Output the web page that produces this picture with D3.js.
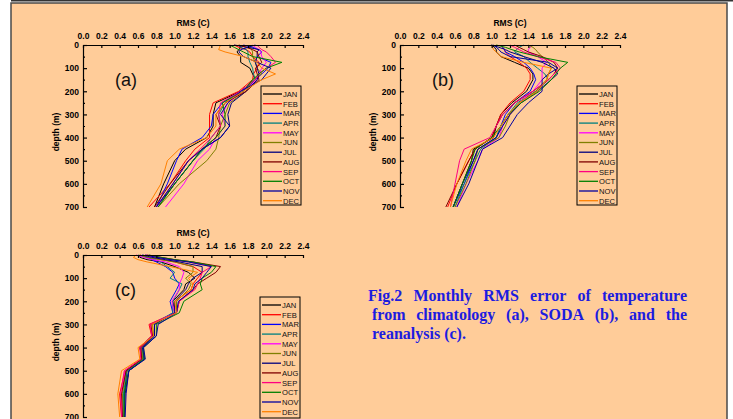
<!DOCTYPE html>
<html><head><meta charset="utf-8">
<script src="https://cdn.jsdelivr.net/npm/d3@7"></script>
<style>body{margin:0;background:#fff}svg{display:block}</style>
</head><body>
<script>
const months = ["JAN","FEB","MAR","APR","MAY","JUN","JUL","AUG","SEP","OCT","NOV","DEC"];
const colors = ["#000000","#ff0000","#0000ff","#008080","#ff00ff","#808000","#000080","#800000","#ff0080","#008000","#0000a0","#ff8000"];
const depths = [0,10,20,30,50,75,100,125,150,200,250,300,350,400,450,500,600,700];
const xTicks = [0,0.2,0.4,0.6,0.8,1.0,1.2,1.4,1.6,1.8,2.0,2.2,2.4];
const yTicks = [0,100,200,300,400,500,600,700];
const yMinor = [50,150,250,350,450,550,650];
const xTitle = "RMS (C)";
const yTitle = "depth (m)";
const panelLabels = ["(a)","(b)","(c)"];

const rmsA = [
[1.70,1.72,1.70,1.68,1.72,1.72,1.82,1.85,1.88,1.72,1.45,1.42,1.42,1.35,1.12,1.00,0.88,0.78],
[1.65,1.70,1.78,1.82,1.85,1.92,1.90,1.86,1.85,1.70,1.42,1.38,1.38,1.38,1.22,1.12,0.95,0.72],
[1.75,1.85,1.92,1.95,1.90,2.05,2.02,1.95,1.88,1.72,1.52,1.42,1.40,1.30,1.08,1.02,0.92,0.80],
[1.70,1.72,1.78,1.80,1.80,1.82,1.85,1.86,1.88,1.75,1.55,1.48,1.50,1.40,1.32,1.20,1.00,0.82],
[1.85,1.88,1.92,1.94,1.95,2.00,1.95,1.92,1.90,1.75,1.58,1.52,1.55,1.45,1.38,1.25,1.10,0.90],
[1.80,1.82,1.84,1.85,1.85,1.88,1.90,1.95,1.85,1.78,1.60,1.55,1.50,1.48,1.45,1.35,1.05,0.82],
[1.65,1.80,1.92,1.90,1.90,1.88,1.90,1.92,1.90,1.78,1.62,1.58,1.60,1.50,1.30,1.20,1.00,0.80],
[1.70,1.78,1.85,1.90,1.92,1.95,1.88,1.90,1.92,1.78,1.55,1.45,1.50,1.45,1.30,1.15,0.95,0.78],
[1.90,1.92,1.95,2.00,2.05,2.10,2.00,1.92,1.88,1.72,1.50,1.48,1.50,1.40,1.28,1.15,0.98,0.80],
[1.60,1.65,1.70,1.75,1.85,2.17,2.00,1.92,1.85,1.75,1.52,1.55,1.55,1.45,1.30,1.20,1.00,0.82],
[1.88,1.80,1.72,1.70,1.75,1.90,2.05,2.00,1.95,1.72,1.58,1.50,1.60,1.50,1.30,1.15,0.98,0.80],
[1.50,1.49,1.48,1.55,1.75,1.90,1.95,2.10,1.95,1.75,1.55,1.45,1.45,1.35,1.05,0.92,0.85,0.70]
];
const rmsB = [
[1.00,1.03,1.05,1.05,1.10,1.25,1.40,1.45,1.45,1.38,1.22,1.10,1.05,1.02,0.80,0.78,0.68,0.58],
[1.10,1.12,1.14,1.15,1.20,1.30,1.38,1.42,1.42,1.35,1.20,1.10,1.05,1.00,0.82,0.75,0.62,0.52],
[1.10,1.12,1.14,1.15,1.25,1.35,1.42,1.46,1.48,1.42,1.25,1.15,1.10,1.05,0.85,0.80,0.70,0.58],
[1.35,1.30,1.27,1.25,1.35,1.42,1.50,1.58,1.62,1.48,1.28,1.18,1.10,1.05,0.88,0.82,0.70,0.60],
[1.45,1.42,1.40,1.40,1.50,1.60,1.55,1.55,1.55,1.45,1.30,1.20,1.12,1.08,0.90,0.85,0.72,0.62],
[1.40,1.45,1.48,1.50,1.55,1.62,1.65,1.62,1.60,1.48,1.30,1.20,1.15,1.08,0.85,0.82,0.72,0.60],
[1.00,1.08,1.15,1.20,1.35,1.55,1.68,1.72,1.65,1.50,1.32,1.20,1.12,1.05,0.85,0.80,0.68,0.58],
[1.25,1.30,1.35,1.40,1.55,1.68,1.72,1.68,1.62,1.45,1.25,1.12,1.05,1.00,0.82,0.75,0.62,0.50],
[1.20,1.25,1.30,1.35,1.50,1.70,1.75,1.68,1.62,1.45,1.25,1.12,1.05,0.98,0.70,0.65,0.60,0.55],
[1.05,1.15,1.22,1.30,1.50,1.83,1.75,1.70,1.65,1.52,1.32,1.18,1.10,1.00,0.82,0.78,0.68,0.58],
[1.02,1.05,1.08,1.10,1.20,1.62,1.72,1.62,1.55,1.55,1.40,1.28,1.20,1.12,0.90,0.85,0.75,0.62],
[1.00,1.01,1.02,1.05,1.10,1.35,1.65,1.62,1.60,1.50,1.30,1.18,1.10,1.02,0.78,0.72,0.62,0.55]
];
const rmsC = [
[0.60,0.62,0.70,0.85,1.00,1.15,1.22,1.12,1.10,0.98,1.00,0.75,0.75,0.62,0.65,0.48,0.45,0.45],
[0.62,0.70,0.85,1.00,1.20,1.30,1.25,1.20,1.18,1.00,1.00,0.72,0.75,0.62,0.64,0.46,0.40,0.42],
[0.65,0.70,0.75,0.80,0.90,0.98,1.00,1.05,1.02,0.95,0.98,0.78,0.78,0.65,0.66,0.50,0.45,0.45],
[0.60,0.68,0.78,0.85,0.92,1.00,0.95,1.08,1.05,0.98,0.98,0.75,0.76,0.64,0.66,0.48,0.44,0.44],
[0.58,0.66,0.75,0.90,1.05,1.10,1.08,1.05,1.05,0.97,1.00,0.74,0.76,0.63,0.64,0.46,0.42,0.43],
[0.62,0.70,0.85,1.00,1.20,1.20,1.12,1.18,1.15,1.02,1.02,0.76,0.77,0.64,0.65,0.47,0.43,0.44],
[0.65,0.75,0.90,1.05,1.30,1.30,1.20,1.15,1.12,1.00,1.00,0.78,0.78,0.65,0.67,0.50,0.46,0.45],
[0.70,0.85,1.00,1.20,1.50,1.45,1.35,1.25,1.20,1.05,1.02,0.74,0.76,0.63,0.64,0.47,0.42,0.43],
[0.68,0.82,0.98,1.15,1.40,1.30,1.28,1.25,1.22,1.05,1.02,0.73,0.75,0.62,0.63,0.45,0.41,0.42],
[0.72,0.85,1.00,1.20,1.45,1.40,1.30,1.28,1.30,1.10,1.05,0.80,0.80,0.66,0.67,0.50,0.45,0.45],
[0.68,0.80,0.95,1.15,1.40,1.35,1.30,1.22,1.20,1.04,1.02,0.82,0.80,0.66,0.68,0.50,0.47,0.46],
[0.58,0.55,0.60,0.70,0.95,1.25,1.15,1.20,1.18,1.00,1.02,0.75,0.77,0.60,0.62,0.42,0.38,0.40]
];
const captionLines = [
  ["Fig.2","Monthly","RMS","error","of","temperature"],
  ["from","climatology","(a),","SODA","(b),","and","the"],
  ["reanalysis","(c)."]
];

const W = 733, H = 419;
const svg = d3.select("body").append("svg").attr("width", W).attr("height", H);

// frame
svg.append("rect").attr("x", 11).attr("y", 3).attr("width", 716).attr("height", 430)
  .attr("fill", "#ffcc99").attr("stroke", "#4a4a4a").attr("stroke-width", 1.5);
svg.append("line").attr("x1", 11).attr("x2", 733).attr("y1", 0.8).attr("y2", 0.8)
  .attr("stroke", "#333").attr("stroke-width", 1.6);

const panels = [
  {data: rmsA, x0: 83, y0: 45, label: panelLabels[0], lx: 261, ly: 86, lh: 119},
  {data: rmsB, x0: 400, y0: 45, label: panelLabels[1], lx: 577, ly: 86, lh: 119},
  {data: rmsC, x0: 83, y0: 255, label: panelLabels[2], lx: 260, ly: 297, lh: 121}
];
const font = "'Liberation Sans', Arial, sans-serif";

panels.forEach(p => {
  const x = d3.scaleLinear().domain([0, 2.4]).range([p.x0, p.x0 + 220]);
  const y = d3.scaleLinear().domain([0, 700]).range([p.y0, p.y0 + 162]);
  const g = svg.append("g");

  // lines
  const line = d3.line().x(d => x(d[0])).y(d => y(d[1]));
  p.data.forEach((vals, i) => {
    g.append("path").datum(vals.map((v, k) => [v, depths[k]]))
      .attr("d", line).attr("fill", "none").attr("stroke", colors[i]).attr("stroke-width", 1)
      .attr("stroke-linejoin", "round");
  });

  // axes
  const xa = g.append("g").attr("transform", `translate(0,${p.y0})`)
    .call(d3.axisTop(x).tickValues(xTicks).tickSizeInner(-3).tickSizeOuter(0).tickPadding(6).tickFormat(d3.format(".1f")));
  const ya = g.append("g").attr("transform", `translate(${p.x0},0)`)
    .call(d3.axisLeft(y).tickValues(yTicks).tickSizeInner(-4).tickSizeOuter(0).tickPadding(4).tickFormat(d3.format("d")));
  const ym = g.append("g").attr("transform", `translate(${p.x0},0)`)
    .call(d3.axisLeft(y).tickValues(yMinor).tickSizeInner(-2).tickSizeOuter(0).tickFormat(""));
  ym.select(".domain").remove();
  [xa, ya, ym].forEach(a => {
    a.selectAll("path,line").attr("stroke", "#000").attr("stroke-width", 1.2);
    a.selectAll("text").attr("font-family", font).attr("font-weight", "bold")
      .attr("font-size", 8.5).attr("fill", "#000");
  });

  // titles
  g.append("text").attr("x", p.x0 + 110).attr("y", p.y0 - 19).attr("text-anchor", "middle")
    .attr("font-family", font).attr("font-weight", "bold").attr("font-size", 8.5).text(xTitle);
  g.append("text").attr("transform", `translate(${p.x0 - 24},${p.y0 + 87}) rotate(-90)`)
    .attr("text-anchor", "middle")
    .attr("font-family", font).attr("font-weight", "bold").attr("font-size", 8.5).text(yTitle);

  // panel label
  g.append("text").attr("x", p.x0 + 32).attr("y", p.y0 + 41)
    .attr("font-family", font).attr("font-size", 18).attr("fill", "#111").text(p.label);

  // legend
  const lg = g.append("g");
  lg.append("rect").attr("x", p.lx).attr("y", p.ly).attr("width", 40).attr("height", p.lh)
    .attr("fill", "none").attr("stroke", "#000").attr("stroke-width", 1);
  months.forEach((m, i) => {
    const yy = p.ly + 8 + i * 9.7;
    lg.append("line").attr("x1", p.lx + 2).attr("x2", p.lx + 21).attr("y1", yy).attr("y2", yy)
      .attr("stroke", colors[i]).attr("stroke-width", 1.3);
    lg.append("text").attr("x", p.lx + 22).attr("y", yy + 2.9)
      .attr("font-family", font).attr("font-size", 7.6).attr("fill", "#111").text(m);
  });
});

// caption, justified
const cap = svg.append("g").attr("font-family", "'Liberation Serif', 'Times New Roman', serif")
  .attr("font-weight", "bold").attr("font-size", 16).attr("fill", "#1c1ce0");
const capX0 = [368, 372, 372], capX1 = 687, capY = [301, 320, 339];
captionLines.forEach((words, li) => {
  const nodes = words.map(w => cap.append("text").attr("y", capY[li]).text(w));
  const widths = nodes.map(n => n.node().getComputedTextLength());
  const total = d3.sum(widths);
  const justify = li < captionLines.length - 1;
  const gap = justify ? (capX1 - capX0[li] - total) / (words.length - 1) : 4;
  let cx = capX0[li];
  nodes.forEach((n, k) => { n.attr("x", cx); cx += widths[k] + gap; });
});
</script>
</body></html>
